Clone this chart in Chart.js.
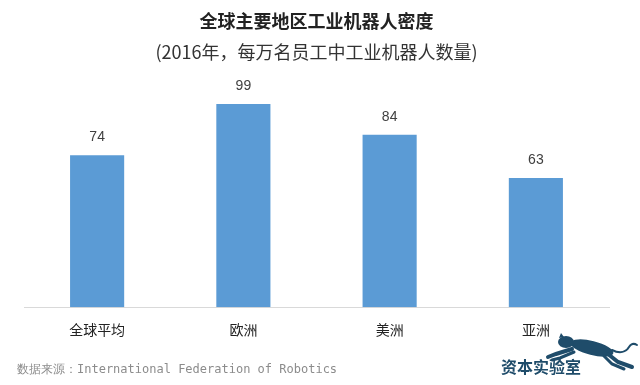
<!DOCTYPE html>
<html>
<head>
<meta charset="utf-8">
<script src="https://cdn.jsdelivr.net/npm/chart.js@4/dist/chart.umd.min.js"></script>
<style>
  body { margin: 0; background: #fff; }
  #wrap { position: relative; width: 640px; height: 385px; }
  #source {
    position: absolute; left: 17px; top: 361px;
    font: 12px "DejaVu Sans Mono", monospace; color: #8c8c8c;
  }
  #logo {
    position: absolute; left: 501px; top: 354px;
    font: bold 16px "Noto Sans CJK SC", sans-serif; color: #1f4c6a;
  }
  #cat { position: absolute; left: 0; top: 0; }
</style>
</head>
<body>
<div id="wrap">
  <canvas id="chart" width="640" height="385"></canvas>
  <div id="source">数据来源：International Federation of Robotics</div>
  <div id="logo">资本实验室</div>
  <svg id="cat" width="640" height="385">
    <g fill="#1f4c6a" stroke="#1f4c6a" stroke-linecap="round">
      <ellipse cx="592" cy="348" rx="22" ry="7" transform="rotate(14 592 348)" stroke="none"/>
      <ellipse cx="566" cy="342" rx="8" ry="6" stroke="none"/>
      <path d="M559 338 L561 333 L564 337 Z" stroke="none"/>
      <path d="M572 349 L556 354 L548 357" fill="none" stroke-width="4"/>
      <path d="M574 352 L560 358 L552 360" fill="none" stroke-width="3"/>
      <path d="M608 354 L618 362 L632 367" fill="none" stroke-width="4"/>
      <path d="M604 356 L612 364 L624 369" fill="none" stroke-width="3"/>
      <path d="M612 350 C620 354 626 352 629 347 C631 344 634 343 637 345" fill="none" stroke-width="2"/>
    </g>
  </svg>
</div>
<script>
const regions = ["全球平均", "欧洲", "美洲", "亚洲"];
const density = [74, 99, 84, 63];

const chartTitle = "全球主要地区工业机器人密度";
const chartSubtitle = "(2016年，每万名员工中工业机器人数量)";

const barColor = "#5b9bd5";

// value labels above each bar
const valueLabels = {
  id: "valueLabels",
  afterDatasetsDraw(chart) {
    const ctx = chart.ctx;
    const meta = chart.getDatasetMeta(0);
    ctx.save();
    ctx.font = "14px 'Liberation Sans', Arial, sans-serif";
    ctx.fillStyle = "#404040";
    ctx.textAlign = "center";
    ctx.textBaseline = "middle";
    meta.data.forEach((bar, i) => {
      ctx.fillText(density[i], bar.x, bar.y - 18);
    });
    ctx.restore();
  }
};

new Chart(document.getElementById("chart"), {
  type: "bar",
  data: {
    labels: regions,
    datasets: [{
      data: density,
      backgroundColor: barColor,
      barPercentage: 0.37,
      categoryPercentage: 1
    }]
  },
  options: {
    responsive: false,
    animation: false,
    layout: { padding: { left: 24, right: 31, top: 0, bottom: 33 } },
    plugins: {
      legend: { display: false },
      tooltip: { enabled: false },
      title: {
        display: true,
        text: chartTitle,
        color: "#222",
        font: { size: 18, weight: "bold", family: "'Noto Sans CJK SC', sans-serif" },
        padding: { top: 10, bottom: 0 }
      },
      subtitle: {
        display: true,
        text: chartSubtitle,
        color: "#333",
        font: { size: 18, family: "'Noto Sans CJK SC', sans-serif" },
        padding: { top: 10, bottom: 8 }
      }
    },
    scales: {
      x: {
        grid: { display: false, drawTicks: false },
        border: { display: true, color: "#d9d9d9", width: 1 },
        ticks: {
          color: "#222",
          padding: 14,
          font: { size: 14, family: "'Noto Sans CJK SC', sans-serif" }
        }
      },
      y: {
        display: false,
        min: 0,
        max: 115
      }
    }
  },
  plugins: [valueLabels]
});
</script>
</body>
</html>
